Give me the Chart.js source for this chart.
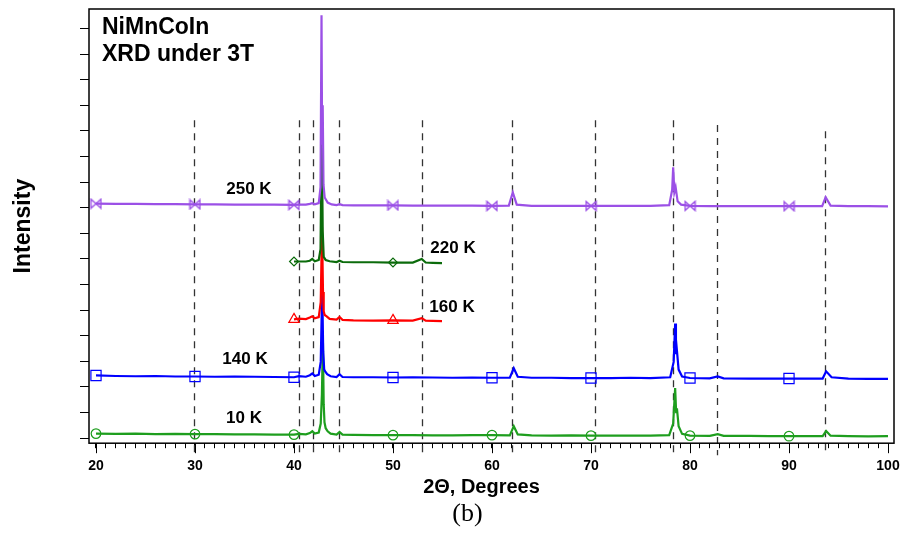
<!DOCTYPE html>
<html>
<head>
<meta charset="utf-8">
<title>NiMnCoIn XRD under 3T</title>
<script src="https://cdn.jsdelivr.net/npm/chart.js@4.4.0/dist/chart.umd.min.js"></script>
<style>
  html, body { margin: 0; padding: 0; background: #fff; }
  #wrap { width: 903px; height: 533px; }
</style>
</head>
<body>
<div id="wrap"><canvas id="xrd" width="903" height="533"></canvas></div>
<script>
// [2theta (deg), intensity above the pattern's own baseline] for each temperature
const pattern10K = [
  [20, 0.06], [22, 0.05], [24, 0.06], [26, 0.04], [28, 0.05], [30, 0.04], [32, 0.04], [34, 0.03],
  [36, 0.03], [38, 0.02], [40, 0.02], [40.5, 0.05], [41.2, 0.03], [41.6, 0.08], [41.85, 0.15],
  [42.1, 0.06], [42.5, 0.1], [42.7, 0.45], [42.82, 1.6], [42.92, 3.71], [43.0, 1.2], [43.08, 0.5],
  [43.2, 0.27], [43.4, 0.15], [43.7, 0.06], [44.3, 0.02], [44.6, 0.12], [44.9, 0.02], [46, 0.01],
  [48, 0.0], [50, 0.0], [52, 0.0], [54, -0.01], [56, -0.01], [58, 0.0], [60, 0.0], [61.8, -0.01],
  [62.2, 0.35], [62.6, 0.03], [64, -0.01], [66, -0.02], [68, -0.01], [70, -0.02], [72, -0.02],
  [74, -0.02], [76, -0.02], [77.9, 0.0], [78.3, 0.45], [78.5, 1.84], [78.6, 0.9], [78.68, 1.05],
  [78.85, 0.35], [79.2, 0.05], [80, -0.02], [82, -0.03], [82.8, 0.04], [83.4, -0.03], [86, -0.03],
  [88, -0.04], [90, -0.04], [92, -0.04], [93.4, -0.04], [93.75, 0.16], [94.2, -0.02], [96, -0.04],
  [98, -0.05], [100, -0.04]
];
const pattern140K = [
  [20, 0.07], [22, 0.05], [24, 0.04], [26, 0.05], [28, 0.03], [30, 0.03], [32, 0.02], [34, 0.03],
  [36, 0.02], [38, 0.01], [40, 0.0], [40.5, 0.04], [41.2, 0.02], [41.6, 0.08], [41.85, 0.15],
  [42.1, 0.05], [42.5, 0.1], [42.7, 0.6], [42.85, 3.48], [42.95, 1.0], [43.05, 0.3], [43.15, 0.23],
  [43.35, 0.12], [43.7, 0.04], [44.3, 0.01], [44.6, 0.12], [44.9, 0.01], [46, 0.0], [48, 0.0],
  [50, -0.01], [52, 0.0], [54, -0.01], [56, -0.02], [58, -0.01], [60, -0.02], [61.8, -0.02],
  [62.2, 0.35], [62.6, 0.02], [64, -0.02], [66, -0.02], [68, -0.03], [70, -0.03], [72, -0.03],
  [74, -0.02], [76, -0.03], [78.0, 0.0], [78.35, 0.6], [78.5, 2.1], [78.58, 0.9], [78.66, 1.13],
  [78.85, 0.3], [79.2, 0.03], [80, -0.03], [82, -0.04], [82.8, 0.03], [83.4, -0.04], [86, -0.05],
  [88, -0.05], [90, -0.05], [92, -0.05], [93.4, -0.05], [93.75, 0.23], [94.3, 0.0], [96, -0.05],
  [98, -0.06], [100, -0.06]
];
const pattern160K = [
  [40, 0.03], [40.5, 0.06], [41.2, 0.04], [41.6, 0.1], [41.85, 0.15], [42.1, 0.07], [42.5, 0.12],
  [42.7, 0.7], [42.83, 3.63], [42.93, 1.1], [43.0, 0.35], [43.1, 0.2], [43.3, 0.15], [43.6, 0.05],
  [44.3, 0.02], [44.6, 0.12], [44.9, 0.01], [46, -0.01], [48, -0.02], [50, -0.01], [52, -0.02],
  [52.9, 0.08], [53.3, -0.02], [54, -0.03], [54.95, -0.04]
];
const pattern220K = [
  [40, 0.02], [40.5, 0.02], [41.2, 0.02], [41.6, 0.05], [41.85, 0.12], [42.1, 0.03], [42.5, 0.08],
  [42.68, 0.5], [42.8, 5.35], [42.9, 1.2], [43.0, 0.2], [43.2, 0.08], [43.6, 0.03], [44.3, 0.0],
  [44.6, 0.05], [44.9, 0.0], [46, -0.01], [48, -0.01], [50, -0.02], [52, -0.02], [52.9, 0.12],
  [53.3, -0.02], [54, -0.03], [54.95, -0.04]
];
const pattern250K = [
  [20, 0.06], [22, 0.05], [24, 0.05], [26, 0.04], [28, 0.04], [30, 0.03], [32, 0.03], [34, 0.02],
  [36, 0.02], [38, 0.02], [40, 0.01], [40.5, 0.02], [41.2, 0.02], [41.6, 0.05], [41.85, 0.08],
  [42.1, 0.03], [42.5, 0.08], [42.68, 0.7], [42.78, 7.42], [42.84, 2.4], [42.9, 3.9], [42.98, 0.8],
  [43.1, 0.3], [43.4, 0.1], [43.8, 0.03], [44.3, 0.0], [44.6, 0.04], [44.9, 0.0], [46, -0.01],
  [48, -0.01], [50, -0.01], [52, -0.02], [54, -0.02], [56, -0.02], [58, -0.02], [60, -0.03],
  [61.7, -0.02], [62.1, 0.5], [62.5, 0.02], [64, -0.03], [66, -0.03], [68, -0.03], [70, -0.03],
  [72, -0.03], [74, -0.03], [76, -0.03], [77.9, 0.0], [78.2, 0.6], [78.3, 1.48], [78.42, 0.5],
  [78.55, 0.7], [78.75, 0.15], [79.1, 0.02], [80, -0.03], [82, -0.04], [84, -0.04], [86, -0.04],
  [88, -0.04], [90, -0.04], [92, -0.04], [93.35, -0.04], [93.7, 0.31], [94.2, -0.02], [96, -0.04],
  [98, -0.04], [100, -0.05]
];

// stacking: each pattern is shifted up by its offset
const temperatures = ["10 K", "140 K", "160 K", "220 K", "250 K"];
const patterns = [pattern10K, pattern140K, pattern160K, pattern220K, pattern250K];
const offsets = [0.12, 2.38, 4.61, 6.88, 9.1];

// symbols are repeated every 10 degrees along each pattern
const markerAngles = [20, 30, 40, 50, 60, 70, 80, 90];

// reflection positions (dashed lines) and the intensity where each line starts
const refAngles = [29.9, 40.5, 41.9, 44.5, 52.9, 62.0, 70.4, 78.3, 82.7, 93.6];
const refTops = [12.42, 12.42, 12.42, 12.42, 12.42, 12.42, 12.42, 12.42, 12.23, 11.99];

// temperature labels, placed at (2theta, intensity)
const labelAngles = [34.95, 35.05, 55.96, 56.06, 35.45];
const labelLevels = [0.78, 3.09, 5.12, 7.42, 9.73];

const SANS = '"Liberation Sans", Arial, Helvetica, sans-serif';
const colors = ["#1e9e1e", "#0000ff", "#ff0000", "#0b6b0b", "#9b50e6"];

// open "bow tie" symbol for the 250 K pattern
function bowtie(color) {
  const c = document.createElement("canvas");
  c.width = 13; c.height = 12;
  const g = c.getContext("2d");
  g.strokeStyle = color;
  g.lineWidth = 1.4;
  g.beginPath();
  g.moveTo(1.5, 1.5); g.lineTo(11.5, 10.5); g.lineTo(11.5, 1.5); g.lineTo(1.5, 10.5); g.closePath();
  g.stroke();
  return c;
}

const symbols = [
  { style: "circle", radius: 4.8 },
  { style: "rect", radius: 7.2 },
  { style: "triangle", radius: 6 },
  { style: "rectRot", radius: 4.4 },
  { style: bowtie(colors[4]), radius: 5 }
];

const datasets = [];
patterns.forEach((pat, i) => {
  const pts = pat.map(([a, v]) => ({ x: a, y: v + offsets[i] }));
  datasets.push({
    label: temperatures[i],
    data: pts,
    showLine: true,
    borderColor: colors[i],
    borderWidth: 2.2,
    pointRadius: 0,
    tension: 0,
    order: 5 - i + 1
  });
  datasets.push({
    label: temperatures[i] + " symbols",
    data: pts.filter(p => markerAngles.includes(p.x)),
    showLine: false,
    pointStyle: symbols[i].style,
    pointRadius: symbols[i].radius,
    pointBorderColor: colors[i],
    pointBackgroundColor: "rgba(0,0,0,0)",
    pointBorderWidth: 1.2,
    order: 0
  });
});

const xrdDecor = {
  id: "xrdDecor",
  beforeDatasetsDraw(chart) {
    const { ctx, chartArea: a, scales: { x, y } } = chart;
    ctx.save();
    ctx.strokeStyle = "#333";
    ctx.lineWidth = 1.3;
    ctx.setLineDash([7, 6]);
    refAngles.forEach((ang, i) => {
      const px = Math.round(x.getPixelForValue(ang)) + 0.5;
      ctx.beginPath();
      ctx.moveTo(px, y.getPixelForValue(refTops[i]));
      ctx.lineTo(px, a.bottom + 12);
      ctx.stroke();
    });
    ctx.restore();
  },
  afterDraw(chart) {
    const { ctx, chartArea: a, scales: { x, y } } = chart;
    ctx.save();
    // box around the plot
    ctx.strokeStyle = "#000";
    ctx.lineWidth = 1.5;
    ctx.strokeRect(a.left, a.top, a.right - a.left, a.bottom - a.top);

    // longer ticks at every 10 degrees
    ctx.lineWidth = 1;
    for (let v = 20; v <= 100; v += 10) {
      const px = Math.round(x.getPixelForValue(v)) + 0.5;
      ctx.beginPath();
      ctx.moveTo(px, a.bottom);
      ctx.lineTo(px, a.bottom + 10);
      ctx.stroke();
    }

    ctx.fillStyle = "#000";
    ctx.textAlign = "left";
    ctx.textBaseline = "alphabetic";
    ctx.font = "bold 23px " + SANS;
    ctx.fillText("NiMnCoIn", a.left + 13, a.top + 25);
    ctx.fillText("XRD under 3T", a.left + 13, a.top + 52);

    // temperature labels
    ctx.font = "bold 17px " + SANS;
    ctx.textAlign = "center";
    ctx.textBaseline = "middle";
    temperatures.forEach((t, i) => {
      ctx.fillText(t, x.getPixelForValue(labelAngles[i]), y.getPixelForValue(labelLevels[i]));
    });

    // axis titles
    ctx.textBaseline = "alphabetic";
    ctx.font = "bold 20px " + SANS;
    ctx.fillText("2\u0398, Degrees", (a.left + a.right) / 2 - 10, a.bottom + 50);

    ctx.save();
    ctx.translate(30, (a.top + a.bottom) / 2);
    ctx.rotate(-Math.PI / 2);
    ctx.font = "bold 23px " + SANS;
    ctx.fillText("Intensity", 0, 0);
    ctx.restore();

    ctx.font = '26px "Liberation Serif", "Times New Roman", serif';
    ctx.fillText("(b)", (a.left + a.right) / 2 - 24, a.bottom + 78);
    ctx.restore();
  }
};

new Chart(document.getElementById("xrd"), {
  type: "scatter",
  data: { datasets },
  options: {
    responsive: false,
    animation: false,
    devicePixelRatio: 1,
    layout: { padding: { left: 80, top: 9, right: 9, bottom: 48 } },
    plugins: { legend: { display: false }, tooltip: { enabled: false } },
    scales: {
      x: {
        type: "linear",
        min: 19.293,
        max: 100.606,
        border: { display: false },
        grid: { drawOnChartArea: false, tickLength: 5, color: "#000", lineWidth: 1 },
        ticks: {
          stepSize: 1,
          includeBounds: false,
          autoSkip: false,
          maxRotation: 0,
          padding: 10,
          color: "#000",
          font: { family: SANS, size: 14, weight: "bold" },
          callback: v => (v % 10 === 0 ? v : "")
        },
        // the end labels fit inside the page margins, so no extra side padding
        afterFit: scale => { scale.paddingLeft = 0; scale.paddingRight = 0; }
      },
      y: {
        type: "linear",
        min: -0.195,
        max: 16.76,
        border: { display: false },
        grid: { drawOnChartArea: false, tickLength: 9, color: "#000", lineWidth: 1 },
        ticks: { display: false, stepSize: 1, includeBounds: false }
      }
    }
  },
  plugins: [xrdDecor]
});
</script>
</body>
</html>
